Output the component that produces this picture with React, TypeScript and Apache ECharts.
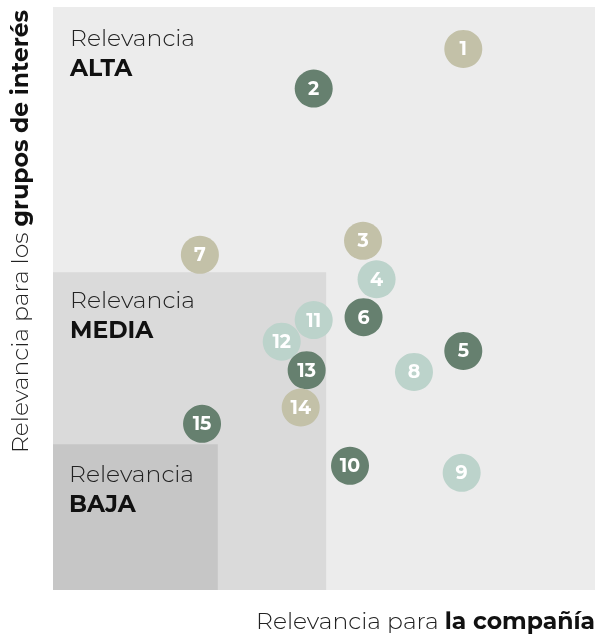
import React, { useEffect, useRef } from "react";
import * as echarts from "echarts";

// Data
const ids = [1, 2, 3, 4, 5, 6, 7, 8, 9, 10, 11, 12, 13, 14, 15];
const xCompany = [75.7, 48.1, 57.2, 59.7, 75.7, 57.3, 27.1, 66.6, 75.4, 54.8, 48.1, 42.2, 46.8, 45.7, 27.5];
const yStakeholders = [92.8, 86.0, 59.9, 53.3, 41.0, 46.8, 57.5, 37.4, 20.1, 21.3, 46.3, 42.6, 37.7, 31.3, 28.5];
const groups = ["a", "b", "a", "c", "b", "b", "a", "c", "c", "b", "c", "c", "b", "a", "b"];

const zoneNames = ["ALTA", "MEDIA", "BAJA"];
const zoneXMax = [100, 50.4, 30.4];
const zoneYMax = [100, 54.5, 25];

const palette: Record<string, string> = { a: "#c3c1a8", b: "#66806f", c: "#bcd3cb" };
const zoneColors = ["#ececec", "#dadada", "#c6c6c6"];
const zoneLabelOffsets = [[17, 15], [17, 12], [16, 14]];

const FONT = "Montserrat, 'Open Sans', sans-serif";
const FS = 23.5;

export default function App() {
  const ref = useRef<HTMLDivElement>(null);
  useEffect(() => {
    const chart = echarts.init(ref.current!, null, { renderer: "svg" });
    const areaData = zoneNames.map((name, i) => [
      {
        xAxis: 0,
        yAxis: 0,
        itemStyle: { color: zoneColors[i] },
        label: {
          show: true,
          position: zoneLabelOffsets[i],
          align: "left",
          verticalAlign: "top",
          formatter: `{a|Relevancia}\n{b|${name}}`,
          rich: {
            a: { fontFamily: FONT, fontSize: FS, fontWeight: 300, color: "#222", lineHeight: 30 },
            b: { fontFamily: FONT, fontSize: FS, fontWeight: 700, color: "#111", lineHeight: 30 },
          },
        },
      },
      { xAxis: zoneXMax[i], yAxis: zoneYMax[i] },
    ]);
    chart.setOption({
      animation: false,
      grid: { left: 53, right: 0, top: 7, bottom: 47 },
      xAxis: { type: "value", min: 0, max: 100, show: false },
      yAxis: { type: "value", min: 0, max: 100, show: false },
      series: [
        {
          type: "scatter",
          data: [],
          z: 1,
          silent: true,
          markArea: { silent: true, data: areaData },
        },
        {
          type: "scatter",
          z: 3,
          symbolSize: 38,
          data: ids.map((id, i) => ({
            value: [xCompany[i], yStakeholders[i]],
            name: String(id),
            itemStyle: { color: palette[groups[i]], opacity: 1 },
          })),
          label: {
            show: true,
            position: "inside",
            formatter: (p: any) => p.name,
            color: "#fff",
            fontFamily: FONT,
            fontWeight: 700,
            fontSize: 19,
          },
        },
      ],
      graphic: [
        {
          type: "text",
          x: 19,
          y: 10,
          rotation: Math.PI / 2,
          style: {
            text: "{a|Relevancia para los }{b|grupos de interés}",
            align: "right",
            verticalAlign: "middle",
            rich: {
              a: { fontFamily: FONT, fontSize: FS, fontWeight: 300, fill: "#222" },
              b: { fontFamily: FONT, fontSize: FS, fontWeight: 700, fill: "#111" },
            },
          },
        },
        {
          type: "text",
          x: 595,
          y: 620,
          style: {
            text: "{a|Relevancia para }{b|la compañía}",
            align: "right",
            verticalAlign: "middle",
            rich: {
              a: { fontFamily: FONT, fontSize: FS, fontWeight: 300, fill: "#222" },
              b: { fontFamily: FONT, fontSize: FS, fontWeight: 700, fill: "#111" },
            },
          },
        },
      ],
    });
    return () => chart.dispose();
  }, []);
  return (
    <div
      ref={ref}
      style={{ position: "fixed", left: 0, top: 0, width: 595, height: 637 }}
    />
  );
}
